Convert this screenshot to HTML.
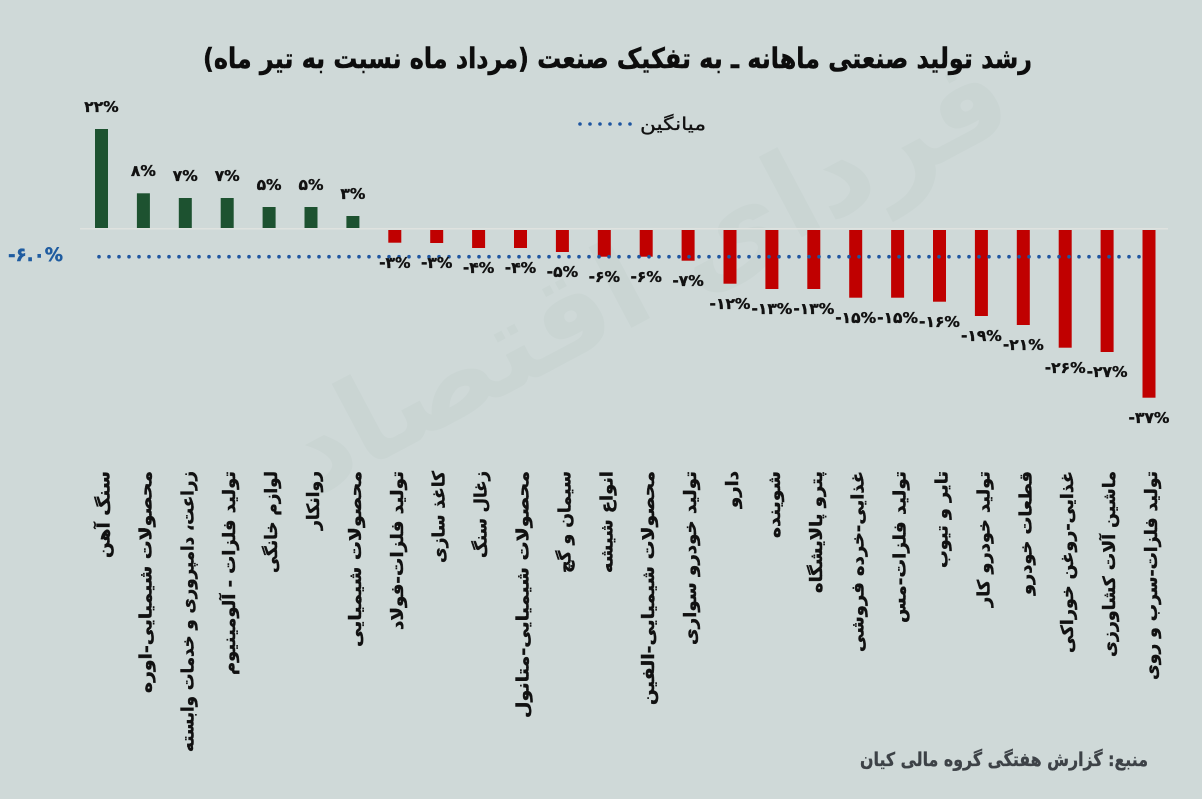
<!DOCTYPE html>
<html><head><meta charset="utf-8"><style>
html,body{margin:0;padding:0;background:#cfd9d8;}
svg{display:block;}
text{font-family:"DejaVu Sans","Liberation Sans",sans-serif;}
</style></head><body>
<svg width="1202" height="799" viewBox="0 0 1202 799" xmlns="http://www.w3.org/2000/svg">
<rect x="0" y="0" width="1202" height="799" fill="#cfd9d8"/>
<!-- faint watermark -->
<g fill="#cad5d3">
<text x="0" y="0" transform="translate(665,310) rotate(-28)" font-size="120" font-weight="bold" direction="rtl" text-anchor="middle" font-family="DejaVu Sans, sans-serif">فردای اقتصاد</text>
</g>
<!-- title -->
<text x="1032" y="68" font-size="28" font-weight="bold" fill="#0d0d0d" stroke="#0d0d0d" stroke-width="0.5" direction="rtl" text-anchor="start" textLength="829" lengthAdjust="spacingAndGlyphs">رشد تولید صنعتی ماهانه ـ به تفکیک صنعت (مرداد ماه نسبت به تیر ماه)</text>
<!-- legend -->
<g fill="#1f56a0">
<circle cx="580" cy="124" r="1.8"/><circle cx="590" cy="124" r="1.8"/><circle cx="600" cy="124" r="1.8"/><circle cx="610" cy="124" r="1.8"/><circle cx="620" cy="124" r="1.8"/><circle cx="630" cy="124" r="1.8"/>
</g>
<text x="706" y="130" font-size="18" fill="#111" stroke="#111" stroke-width="0.3" direction="rtl" text-anchor="start" textLength="66" lengthAdjust="spacingAndGlyphs">میانگین</text>
<!-- baseline -->
<line x1="80" y1="228.8" x2="1168" y2="228.8" stroke="#dfe2df" stroke-width="1.5"/>
<!-- green bars -->
<g fill="#1d5230">
<rect x="95" y="129" width="13" height="99"/>
<rect x="136.9" y="193.3" width="13" height="34.7"/>
<rect x="178.8" y="198" width="13" height="30"/>
<rect x="220.7" y="198" width="13" height="30"/>
<rect x="262.6" y="207" width="13" height="21"/>
<rect x="304.5" y="207" width="13" height="21"/>
<rect x="346.4" y="216" width="13" height="12"/>
</g>
<!-- red bars -->
<g fill="#c00000">
<rect x="388.3" y="230" width="13" height="12.7"/>
<rect x="430.2" y="230" width="13" height="13"/>
<rect x="472.1" y="230" width="13" height="18"/>
<rect x="514.0" y="230" width="13" height="18"/>
<rect x="555.9" y="230" width="13" height="22"/>
<rect x="597.8" y="230" width="13" height="26.7"/>
<rect x="639.7" y="230" width="13" height="26.7"/>
<rect x="681.6" y="230" width="13" height="30.7"/>
<rect x="723.5" y="230" width="13" height="53.7"/>
<rect x="765.4" y="230" width="13" height="59"/>
<rect x="807.3" y="230" width="13" height="59"/>
<rect x="849.2" y="230" width="13" height="67.7"/>
<rect x="891.1" y="230" width="13" height="67.7"/>
<rect x="933.0" y="230" width="13" height="71.7"/>
<rect x="974.9" y="230" width="13" height="86"/>
<rect x="1016.8" y="230" width="13" height="95"/>
<rect x="1058.7" y="230" width="13" height="117.7"/>
<rect x="1100.6" y="230" width="13" height="122"/>
<rect x="1142.5" y="230" width="13" height="167.7"/>
</g>
<!-- average dotted line -->
<line x1="99" y1="256.7" x2="1142" y2="256.7" stroke="#1f56a0" stroke-width="3.6" stroke-linecap="round" stroke-dasharray="0 10"/>
<text x="8" y="261" font-size="19" font-weight="bold" fill="#1f5ca0" stroke="#1f5ca0" stroke-width="0.4" textLength="55" lengthAdjust="spacingAndGlyphs">-۶.۰%</text>
<!-- value labels -->
<g font-size="15.5" font-weight="bold" fill="#111" stroke="#111" stroke-width="0.35" text-anchor="middle">
<text x="101.5" y="112">۲۲%</text>
<text x="143.4" y="176">۸%</text>
<text x="185.3" y="181">۷%</text>
<text x="227.2" y="181">۷%</text>
<text x="269.1" y="190">۵%</text>
<text x="311.0" y="190">۵%</text>
<text x="352.9" y="199">۳%</text>
<text x="394.8" y="268">-۳%</text>
<text x="436.7" y="268">-۳%</text>
<text x="478.6" y="273">-۴%</text>
<text x="520.5" y="273">-۴%</text>
<text x="562.4" y="277">-۵%</text>
<text x="604.3" y="282">-۶%</text>
<text x="646.2" y="282">-۶%</text>
<text x="688.1" y="286">-۷%</text>
<text x="730.0" y="309">-۱۲%</text>
<text x="771.9" y="314">-۱۳%</text>
<text x="813.8" y="314">-۱۳%</text>
<text x="855.7" y="323">-۱۵%</text>
<text x="897.6" y="323">-۱۵%</text>
<text x="939.5" y="327">-۱۶%</text>
<text x="981.4" y="341">-۱۹%</text>
<text x="1023.3" y="350">-۲۱%</text>
<text x="1065.2" y="373">-۲۶%</text>
<text x="1107.1" y="377">-۲۷%</text>
<text x="1149.0" y="423">-۳۷%</text>
</g>
<!-- category labels -->
<g font-size="17" font-weight="bold" fill="#111" stroke="#111" stroke-width="0.4" direction="rtl" text-anchor="start">
<text transform="translate(101.5,471) rotate(-90)" x="0" y="8" textLength="87" lengthAdjust="spacingAndGlyphs">سنگ آهن</text>
<text transform="translate(143.4,471) rotate(-90)" x="0" y="8" textLength="222" lengthAdjust="spacingAndGlyphs">محصولات شیمیایی-اوره</text>
<text transform="translate(185.3,471) rotate(-90)" x="0" y="8" textLength="281" lengthAdjust="spacingAndGlyphs">زراعت، دامپروری و خدمات وابسته</text>
<text transform="translate(227.2,471) rotate(-90)" x="0" y="8" textLength="204" lengthAdjust="spacingAndGlyphs">تولید فلزات - آلومینیوم</text>
<text transform="translate(269.1,471) rotate(-90)" x="0" y="8" textLength="102" lengthAdjust="spacingAndGlyphs">لوازم خانگی</text>
<text transform="translate(311.0,471) rotate(-90)" x="0" y="8" textLength="59" lengthAdjust="spacingAndGlyphs">روانکار</text>
<text transform="translate(352.9,471) rotate(-90)" x="0" y="8" textLength="176" lengthAdjust="spacingAndGlyphs">محصولات شیمیایی</text>
<text transform="translate(394.8,471) rotate(-90)" x="0" y="8" textLength="159" lengthAdjust="spacingAndGlyphs">تولید فلزات-فولاد</text>
<text transform="translate(436.7,471) rotate(-90)" x="0" y="8" textLength="92" lengthAdjust="spacingAndGlyphs">کاغذ سازی</text>
<text transform="translate(478.6,471) rotate(-90)" x="0" y="8" textLength="87" lengthAdjust="spacingAndGlyphs">زغال سنگ</text>
<text transform="translate(520.5,471) rotate(-90)" x="0" y="8" textLength="247" lengthAdjust="spacingAndGlyphs">محصولات شیمیایی-متانول</text>
<text transform="translate(562.4,471) rotate(-90)" x="0" y="8" textLength="102" lengthAdjust="spacingAndGlyphs">سیمان و گچ</text>
<text transform="translate(604.3,471) rotate(-90)" x="0" y="8" textLength="102" lengthAdjust="spacingAndGlyphs">انواع شیشه</text>
<text transform="translate(646.2,471) rotate(-90)" x="0" y="8" textLength="234" lengthAdjust="spacingAndGlyphs">محصولات شیمیایی-الفین</text>
<text transform="translate(688.1,471) rotate(-90)" x="0" y="8" textLength="174" lengthAdjust="spacingAndGlyphs">تولید خودرو سواری</text>
<text transform="translate(730.0,471) rotate(-90)" x="0" y="8" textLength="37" lengthAdjust="spacingAndGlyphs">دارو</text>
<text transform="translate(771.9,471) rotate(-90)" x="0" y="8" textLength="67" lengthAdjust="spacingAndGlyphs">شوینده</text>
<text transform="translate(813.8,471) rotate(-90)" x="0" y="8" textLength="122" lengthAdjust="spacingAndGlyphs">پترو پالایشگاه</text>
<text transform="translate(855.7,471) rotate(-90)" x="0" y="8" textLength="181" lengthAdjust="spacingAndGlyphs">غذایی-خرده فروشی</text>
<text transform="translate(897.6,471) rotate(-90)" x="0" y="8" textLength="152" lengthAdjust="spacingAndGlyphs">تولید فلزات-مس</text>
<text transform="translate(939.5,471) rotate(-90)" x="0" y="8" textLength="97" lengthAdjust="spacingAndGlyphs">تایر و تیوب</text>
<text transform="translate(981.4,471) rotate(-90)" x="0" y="8" textLength="136" lengthAdjust="spacingAndGlyphs">تولید خودرو کار</text>
<text transform="translate(1023.3,471) rotate(-90)" x="0" y="8" textLength="124" lengthAdjust="spacingAndGlyphs">قطعات خودرو</text>
<text transform="translate(1065.2,471) rotate(-90)" x="0" y="8" textLength="182" lengthAdjust="spacingAndGlyphs">غذایی-روغن خوراکی</text>
<text transform="translate(1107.1,471) rotate(-90)" x="0" y="8" textLength="186" lengthAdjust="spacingAndGlyphs">ماشین آلات کشاورزی</text>
<text transform="translate(1149.0,471) rotate(-90)" x="0" y="8" textLength="209" lengthAdjust="spacingAndGlyphs">تولید فلزات-سرب و روی</text>
</g>
<!-- source -->
<text x="1148" y="766" font-size="19" font-weight="bold" fill="#3d4247" stroke="#3d4247" stroke-width="0.3" direction="rtl" text-anchor="start" textLength="288" lengthAdjust="spacingAndGlyphs">منبع: گزارش هفتگی گروه مالی کیان</text>
</svg>
</body></html>
